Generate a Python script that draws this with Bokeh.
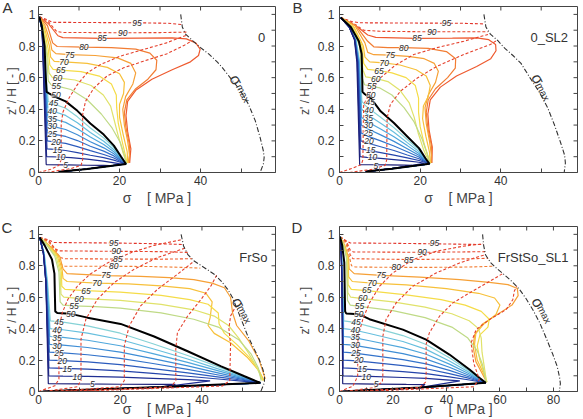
from bokeh.plotting import figure
from bokeh.layouts import gridplot
from bokeh.models import (ColumnDataSource, LabelSet, FixedTicker,
                          CustomJSTickFormatter, Range1d)
from bokeh.embed import file_html
from bokeh.resources import INLINE
from bokeh.core.properties import value

FONT = "Liberation Sans"

# fill levels [%] of the stress profiles
levels = [5, 10, 15, 20, 25, 30, 35, 40, 45, 50, 55, 60, 65, 70, 75, 80, 85, 90, 95]
level_colors = ["#1c1f78", "#1f2e93", "#2443aa", "#2b5bbd", "#3373cb", "#3e8dd5",
                "#4fa7dc", "#66bfde", "#86d2d6", "#000000", "#bfda86", "#e0e26a",
                "#f5dc48", "#f7c03a", "#f6a036", "#f27d33", "#ee5a2f", "#e8442c", "#e2342a"]
sweep_color = "#e5412d"

# ---------------- case 0 ----------------
A_curves = [
    [(0.2, 0.985), (0.9, 0.9), (1.9, 0.05), (7, 0.048), (12, 0.046), (16, 0.045), (17.5, 0.043)],
    [(0.2, 0.985), (0.9, 0.9), (2.0, 0.1), (5, 0.098), (8, 0.094), (12, 0.084), (16, 0.072), (19.5, 0.058), (20.5, 0.052)],
    [(0.2, 0.985), (0.9, 0.9), (2.1, 0.15), (4, 0.146), (6.7, 0.139), (9.6, 0.126), (12.8, 0.109), (16.1, 0.094), (18.6, 0.078), (20.4, 0.063), (21.4, 0.054)],
    [(0.2, 0.985), (0.9, 0.9), (2.15, 0.2), (4, 0.193), (6.7, 0.184), (9.6, 0.164), (12.8, 0.138), (16.1, 0.114), (18.6, 0.092), (20.4, 0.068), (21.5, 0.054)],
    [(0.2, 0.985), (0.9, 0.9), (2.2, 0.25), (4, 0.241), (6.7, 0.228), (9.6, 0.202), (12.8, 0.166), (16.1, 0.135), (18.6, 0.105), (20.4, 0.074), (21.5, 0.054)],
    [(0.2, 0.985), (0.9, 0.9), (2.25, 0.3), (4, 0.289), (6.7, 0.272), (9.6, 0.239), (12.8, 0.195), (16.1, 0.156), (18.6, 0.118), (20.4, 0.079), (21.6, 0.054)],
    [(0.2, 0.985), (0.9, 0.9), (2.3, 0.35), (4, 0.337), (6.7, 0.317), (9.6, 0.277), (12.8, 0.224), (16.1, 0.177), (18.6, 0.131), (20.4, 0.084), (21.6, 0.054)],
    [(0.2, 0.985), (0.9, 0.9), (2.35, 0.4), (4, 0.384), (6.7, 0.361), (9.6, 0.315), (12.8, 0.253), (16.1, 0.198), (18.6, 0.144), (20.4, 0.089), (21.6, 0.054)],
    [(0.2, 0.985), (0.9, 0.9), (2.4, 0.45), (4, 0.432), (6.7, 0.406), (9.6, 0.352), (12.8, 0.281), (16.1, 0.219), (18.6, 0.157), (20.4, 0.095), (21.6, 0.054)],
    [(0.2, 0.985), (0.8, 0.93), (1.5, 0.8), (1.8, 0.6), (2.0, 0.51), (2.6, 0.5), (4, 0.48), (6.7, 0.45), (9.6, 0.39), (12.8, 0.31), (16.1, 0.24), (18.6, 0.17), (20.4, 0.10), (21.6, 0.054)],
    [(0.2, 0.985), (1.0, 0.92), (2.0, 0.75), (2.4, 0.58), (3.2, 0.552), (4.4, 0.548), (8, 0.525), (12, 0.46), (15.5, 0.37), (18.2, 0.28), (20.2, 0.19), (21.2, 0.11), (21.7, 0.055)],
    [(0.2, 0.985), (1.1, 0.92), (2.2, 0.75), (2.6, 0.63), (3.4, 0.602), (4.7, 0.598), (9, 0.585), (13, 0.55), (16, 0.49), (17.8, 0.42), (18.6, 0.34), (19.6, 0.24), (20.8, 0.13), (21.8, 0.055)],
    [(0.2, 0.985), (1.2, 0.92), (2.4, 0.78), (2.8, 0.68), (3.6, 0.652), (5.5, 0.648), (10.5, 0.638), (15, 0.61), (18, 0.56), (19.2, 0.49), (19.3, 0.41), (19.7, 0.31), (20.7, 0.19), (21.9, 0.06)],
    [(0.2, 0.985), (1.4, 0.92), (2.7, 0.8), (3.0, 0.73), (3.9, 0.703), (6.3, 0.70), (12, 0.69), (17, 0.665), (20, 0.625), (21.2, 0.57), (21, 0.5), (20, 0.43), (20, 0.35), (20.9, 0.24), (21.9, 0.13), (22, 0.06)],
    [(0.2, 0.985), (1.6, 0.93), (3.0, 0.82), (3.3, 0.775), (4.3, 0.752), (7.7, 0.745), (14, 0.74), (19.5, 0.725), (22.8, 0.69), (24, 0.63), (23.3, 0.56), (21.5, 0.48), (20.8, 0.4), (21.2, 0.3), (22, 0.2), (22.5, 0.11), (22.1, 0.06)],
    [(0.2, 0.985), (2.2, 0.93), (3.5, 0.82), (4.6, 0.797), (11.2, 0.793), (18, 0.79), (24, 0.78), (27.5, 0.755), (29.2, 0.71), (29, 0.65), (27, 0.59), (24, 0.53), (21.8, 0.46), (21.2, 0.38), (21.6, 0.28), (22.5, 0.17), (22.4, 0.06)],
    [(0.2, 0.985), (2.5, 0.94), (4.8, 0.865), (6, 0.853), (15.7, 0.848), (25, 0.85), (33, 0.852), (36.5, 0.845), (38.8, 0.82), (39.9, 0.78), (39.5, 0.74), (37.5, 0.7), (33, 0.65), (28, 0.59), (24, 0.52), (22, 0.45), (21.6, 0.36), (22, 0.26), (22.8, 0.15), (22.5, 0.06)],
    [(0.2, 0.985), (2.4, 0.955), (4.5, 0.892), (6, 0.886), (20.8, 0.884), (30, 0.885), (36.5, 0.888)],
    [(0.2, 0.985), (2, 0.968), (3.5, 0.95), (24.3, 0.947), (32, 0.944), (35.6, 0.935)],
]
A_return = [(12, 0.022), (5, 0.004)]
A_sweeps = [
    [(0, 0), (3, 0.02), (5, 0.045), (5.6, 0.08), (5.6, 0.3), (6.0, 0.38), (7.5, 0.47), (9.6, 0.556), (12, 0.63), (15.3, 0.683), (20.2, 0.736), (25.9, 0.778), (31.6, 0.82), (36.5, 0.868)],
    [(2, 0), (8, 0.025), (10.5, 0.045), (10.9, 0.08), (10.9, 0.366), (11.6, 0.45), (13.7, 0.535), (16.9, 0.61), (21, 0.662), (25.9, 0.704), (31.6, 0.75), (36, 0.805), (38, 0.835)],
]
A_smax = [(35.1, 1.0), (35.5, 0.92), (36.3, 0.875), (38, 0.835), (40, 0.79), (42, 0.75), (44.1, 0.70), (45.3, 0.666), (47.3, 0.60), (49.8, 0.52), (51.8, 0.433), (53.5, 0.328), (54.7, 0.222), (55.5, 0.137), (55.7, 0.095), (55.5, 0.053), (54.7, 0.0)]
A_labels = [(6.7, 0.045), (5.5, 0.095), (4.7, 0.144), (4.3, 0.192), (3.4, 0.243), (3.4, 0.292), (3.4, 0.34), (3.4, 0.39), (3.7, 0.44), (4.3, 0.493), (4.4, 0.545), (4.7, 0.598), (5.5, 0.649), (6.3, 0.70), (7.7, 0.744), (11.2, 0.793), (15.7, 0.848), (20.8, 0.884), (24.3, 0.947)]

# ---------------- case 0_SL2 ----------------
B_curves = [
    [(0.3, 0.98), (2.4, 0.92), (3.7, 0.84), (4.3, 0.7), (5.0, 0.05), (8, 0.049), (12, 0.048), (16, 0.047), (18, 0.046)],
    [(0.3, 0.98), (2.4, 0.92), (3.75, 0.84), (4.4, 0.7), (5.1, 0.1), (6.8, 0.096), (10.2, 0.089), (13.5, 0.081), (16.8, 0.073), (19.7, 0.065), (21, 0.058)],
    [(0.3, 0.98), (2.4, 0.92), (3.8, 0.84), (4.5, 0.7), (5.2, 0.15), (6.8, 0.141), (10.2, 0.126), (13.5, 0.110), (16.8, 0.092), (19.7, 0.076), (21.3, 0.063), (22.3, 0.055)],
    [(0.3, 0.98), (2.4, 0.92), (3.8, 0.84), (4.55, 0.7), (5.3, 0.2), (6.8, 0.187), (10.2, 0.163), (13.5, 0.139), (16.8, 0.111), (19.7, 0.087), (21.3, 0.066), (22.3, 0.055)],
    [(0.3, 0.98), (2.4, 0.92), (3.85, 0.84), (4.6, 0.7), (5.35, 0.25), (6.8, 0.232), (10.2, 0.2), (13.5, 0.168), (16.8, 0.131), (19.7, 0.098), (21.3, 0.07), (22.3, 0.055)],
    [(0.3, 0.98), (2.45, 0.92), (3.9, 0.84), (4.7, 0.7), (5.4, 0.3), (6.8, 0.278), (10.2, 0.238), (13.5, 0.197), (16.8, 0.15), (19.7, 0.109), (21.3, 0.074), (22.3, 0.055)],
    [(0.3, 0.98), (2.5, 0.92), (3.95, 0.84), (4.8, 0.7), (5.45, 0.35), (6.8, 0.323), (10.2, 0.275), (13.5, 0.226), (16.8, 0.17), (19.7, 0.12), (21.3, 0.078), (22.3, 0.055)],
    [(0.3, 0.98), (2.55, 0.92), (4.0, 0.84), (4.9, 0.7), (5.5, 0.4), (6.8, 0.369), (10.2, 0.312), (13.5, 0.255), (16.8, 0.189), (19.7, 0.132), (21.3, 0.082), (22.3, 0.055)],
    [(0.3, 0.98), (2.6, 0.92), (4.1, 0.84), (5.0, 0.7), (5.55, 0.45), (6.8, 0.414), (10.2, 0.35), (13.5, 0.284), (16.8, 0.209), (19.7, 0.143), (21.3, 0.086), (22.3, 0.055)],
    [(0.3, 0.98), (2.8, 0.92), (4.8, 0.83), (5.5, 0.75), (5.7, 0.51), (6.3, 0.495), (7.75, 0.47), (10.2, 0.387), (13.5, 0.313), (16.8, 0.228), (19.7, 0.154), (21.3, 0.09), (22.3, 0.055)],
    [(0.3, 0.98), (3.0, 0.92), (5.0, 0.8), (5.6, 0.6), (6.2, 0.555), (8, 0.545), (10, 0.535), (13, 0.49), (16, 0.41), (18.5, 0.32), (20.5, 0.21), (21.7, 0.12), (22.4, 0.056)],
    [(0.3, 0.98), (3.2, 0.92), (5.3, 0.8), (5.8, 0.65), (6.5, 0.605), (9, 0.595), (12, 0.575), (15, 0.52), (17.3, 0.44), (18.5, 0.35), (19.5, 0.25), (20.9, 0.14), (22.4, 0.056)],
    [(0.3, 0.98), (3.4, 0.92), (5.6, 0.8), (6.0, 0.69), (7.0, 0.652), (9.8, 0.645), (13, 0.63), (16.5, 0.6), (18.8, 0.55), (19.6, 0.47), (19.6, 0.38), (20, 0.29), (21, 0.18), (22.5, 0.058)],
    [(0.3, 0.98), (3.6, 0.92), (5.9, 0.8), (6.3, 0.73), (7.5, 0.7), (11, 0.693), (15, 0.68), (19, 0.65), (21.5, 0.61), (22.5, 0.55), (22, 0.48), (20.8, 0.42), (20.6, 0.34), (21.4, 0.23), (22.3, 0.13), (22.5, 0.06)],
    [(0.3, 0.98), (3.8, 0.93), (6.3, 0.82), (7.0, 0.76), (8.5, 0.745), (12.6, 0.742), (17, 0.735), (21, 0.72), (23.5, 0.69), (24.5, 0.64), (23.8, 0.57), (22, 0.49), (21.2, 0.41), (21.5, 0.31), (22.3, 0.2), (22.8, 0.11), (22.6, 0.06)],
    [(0.3, 0.98), (4.0, 0.93), (7.0, 0.83), (8.5, 0.795), (12, 0.79), (16, 0.79), (22, 0.785), (26.5, 0.765), (28.8, 0.72), (28.7, 0.66), (26.8, 0.6), (23.8, 0.53), (22, 0.46), (21.5, 0.38), (21.9, 0.28), (22.8, 0.17), (22.8, 0.06)],
    [(0.3, 0.98), (4.5, 0.92), (7.0, 0.87), (9.0, 0.855), (19, 0.848), (28, 0.85), (34, 0.852), (37, 0.84), (38.7, 0.81), (38.8, 0.77), (37.5, 0.72), (34, 0.67), (29, 0.61), (25, 0.54), (22.5, 0.46), (21.9, 0.37), (22.2, 0.27), (23, 0.16), (22.9, 0.06)],
    [(0.3, 0.98), (4.0, 0.935), (6.0, 0.9), (10, 0.893), (22, 0.89), (32, 0.89), (36.8, 0.89)],
    [(0.3, 0.98), (3.0, 0.955), (5.0, 0.947), (20, 0.945), (30, 0.944), (35.9, 0.94)],
]
B_return = [(13, 0.024), (6.5, 0.006)]
B_sweeps = [
    [(0, 0), (3, 0.025), (5.4, 0.05), (5.8, 0.08), (5.9, 0.3), (6.0, 0.43), (7.7, 0.51), (10.2, 0.6), (13.9, 0.68), (18.4, 0.746), (24.2, 0.79), (30.8, 0.83), (36.8, 0.873)],
    [(2.5, 0), (8, 0.02), (11.3, 0.045), (11.7, 0.08), (11.8, 0.345), (12.6, 0.43), (15.1, 0.514), (19.3, 0.598), (24.2, 0.672), (30.8, 0.746), (37.4, 0.81), (39.0, 0.835)],
]
B_smax = [(35.8, 1.0), (36.3, 0.92), (37.4, 0.875), (39.2, 0.835), (41, 0.785), (43, 0.74), (45, 0.69), (47.2, 0.6), (49.5, 0.51), (51.6, 0.41), (53.3, 0.3), (54.8, 0.19), (55.8, 0.11), (56, 0.06), (55.7, 0.0)]
B_labels = [(9, 0.044), (8.2, 0.095), (7.75, 0.144), (7.3, 0.197), (7.1, 0.25), (7.1, 0.298), (7.1, 0.345), (7.3, 0.395), (7.6, 0.444), (7.75, 0.493), (8, 0.545), (9, 0.594), (9.8, 0.645), (11.1, 0.693), (12.6, 0.742), (15.9, 0.79), (19.2, 0.85), (22.9, 0.89), (26.5, 0.945)]

# ---------------- case FrSo ----------------
C_curves = [
    [(0.3, 0.98), (1.2, 0.88), (1.8, 0.7), (2.4, 0.05), (10, 0.048), (20, 0.046), (30, 0.045), (33.5, 0.045)],
    [(0.3, 0.98), (1.2, 0.88), (1.8, 0.7), (2.5, 0.1), (6, 0.098), (12, 0.096), (20, 0.091), (28, 0.083), (36.5, 0.075), (42, 0.068)],
    [(0.3, 0.98), (1.2, 0.88), (1.8, 0.7), (2.55, 0.15), (6, 0.147), (12, 0.142), (20, 0.131), (28, 0.115), (36.5, 0.097), (44.7, 0.078), (50.4, 0.065), (54.3, 0.055)],
    [(0.3, 0.98), (1.2, 0.88), (1.85, 0.7), (2.6, 0.2), (6, 0.196), (12, 0.188), (20, 0.171), (28, 0.146), (36.5, 0.119), (44.7, 0.09), (50.4, 0.07), (54.3, 0.055)],
    [(0.3, 0.98), (1.2, 0.88), (1.9, 0.7), (2.65, 0.25), (6, 0.246), (12, 0.234), (20, 0.211), (28, 0.178), (36.5, 0.141), (44.7, 0.102), (50.4, 0.075), (54.3, 0.055)],
    [(0.3, 0.98), (1.25, 0.88), (1.95, 0.7), (2.7, 0.3), (6, 0.295), (12, 0.28), (20, 0.251), (28, 0.209), (36.5, 0.163), (44.7, 0.114), (50.4, 0.08), (54.3, 0.055)],
    [(0.3, 0.98), (1.3, 0.88), (2.0, 0.7), (2.75, 0.35), (6, 0.344), (12, 0.326), (20, 0.291), (28, 0.241), (36.5, 0.185), (44.7, 0.126), (50.4, 0.085), (54.3, 0.055)],
    [(0.3, 0.98), (1.35, 0.88), (2.1, 0.7), (2.8, 0.4), (6, 0.393), (12, 0.372), (20, 0.331), (28, 0.272), (36.5, 0.207), (44.7, 0.138), (50.4, 0.09), (54.3, 0.055)],
    [(0.3, 0.98), (1.4, 0.88), (2.2, 0.7), (2.9, 0.45), (6, 0.442), (12, 0.418), (20, 0.371), (28, 0.304), (36.5, 0.229), (44.7, 0.15), (50.4, 0.095), (54.3, 0.055)],
    [(0.3, 0.98), (1.5, 0.93), (3.3, 0.84), (3.9, 0.75), (4.1, 0.51), (4.6, 0.5), (7.9, 0.494), (12, 0.47), (20.1, 0.43), (28.3, 0.35), (36.5, 0.256), (44.7, 0.16), (50.4, 0.097), (54.3, 0.055)],
    [(0.3, 0.98), (1.8, 0.94), (4.0, 0.86), (5.0, 0.76), (5.3, 0.57), (6, 0.55), (8.7, 0.545), (14, 0.54), (20, 0.53), (30, 0.5), (38, 0.46), (44, 0.41), (49, 0.33), (52, 0.24), (53.8, 0.15), (54.5, 0.07)],
    [(0.3, 0.98), (1.9, 0.94), (4.3, 0.86), (5.3, 0.76), (5.5, 0.62), (6.2, 0.6), (9.9, 0.592), (20, 0.58), (30, 0.555), (38, 0.52), (43, 0.48), (46.5, 0.42), (49, 0.34), (51.5, 0.24), (53.5, 0.15), (54.8, 0.07)],
    [(0.3, 0.98), (2.0, 0.94), (4.6, 0.86), (5.6, 0.76), (5.7, 0.67), (6.5, 0.65), (11.6, 0.642), (20, 0.632), (30, 0.612), (37, 0.585), (41.5, 0.555), (44, 0.5), (44.2, 0.43), (45.5, 0.37), (48.5, 0.3), (51.5, 0.22), (53.8, 0.14), (55, 0.07)],
    [(0.3, 0.98), (2.1, 0.94), (4.9, 0.86), (5.8, 0.77), (6.0, 0.72), (7.0, 0.70), (14.3, 0.69), (22, 0.685), (30, 0.672), (37, 0.655), (41, 0.625), (42.5, 0.57), (42, 0.47), (41.5, 0.42), (43, 0.37), (47, 0.31), (51, 0.22), (54, 0.13), (55.2, 0.07)],
    [(0.3, 0.98), (2.2, 0.94), (5.2, 0.86), (6.0, 0.78), (7.0, 0.75), (16.5, 0.737), (25, 0.733), (32, 0.725), (38, 0.712), (42.5, 0.69), (45.5, 0.66), (47, 0.6), (47.5, 0.5), (48.5, 0.42), (51.5, 0.32), (54, 0.2), (55.5, 0.08)],
    [(0.3, 0.98), (2.5, 0.95), (4.5, 0.88), (5.3, 0.81), (6.5, 0.797), (18.4, 0.797), (28, 0.795), (35, 0.79), (39.6, 0.785)],
    [(0.3, 0.98), (2.5, 0.955), (4.3, 0.9), (5.0, 0.855), (6.5, 0.845), (19.4, 0.843), (30, 0.842), (37.6, 0.845)],
    [(0.3, 0.98), (2.5, 0.96), (4.0, 0.91), (5.0, 0.895), (19, 0.892), (30, 0.89), (36.6, 0.885)],
    [(0.3, 0.98), (2.5, 0.965), (3.8, 0.948), (18.4, 0.945), (30, 0.94), (35.6, 0.935)],
]
C_return = [(30, 0.028), (8, 0.008), (1, 0.0)]
C_sweeps = [
    [(0, 0), (4, 0.036), (5.0, 0.078), (5.0, 0.4), (5.8, 0.5), (7.2, 0.587), (9.5, 0.67), (12.6, 0.746), (17, 0.82), (22.6, 0.883), (28.3, 0.93), (34.8, 0.965)],
    [(1.5, 0), (9.5, 0.03), (10.4, 0.07), (10.4, 0.333), (11.6, 0.46), (14.4, 0.587), (18.5, 0.693), (23.4, 0.778), (29.1, 0.852), (35.8, 0.912)],
    [(3, 0), (20, 0.03), (21, 0.07), (21, 0.29), (22.2, 0.417), (25, 0.545), (29.1, 0.65), (34, 0.746), (38.1, 0.83)],
    [(5, 0), (32.5, 0.03), (33.6, 0.07), (33.6, 0.27), (34, 0.375), (36.5, 0.48), (39.8, 0.587), (42.2, 0.672), (43.6, 0.74)],
    [(8, 0), (45, 0.035), (46.8, 0.07), (47, 0.3), (46.6, 0.4), (47, 0.48), (48.3, 0.544)],
]
C_smax = [(34.9, 1.0), (35.5, 0.926), (36.5, 0.873), (38.1, 0.83), (40.6, 0.788), (43, 0.746), (44.7, 0.703), (46.3, 0.65), (47.5, 0.597), (48.3, 0.544), (49.6, 0.46), (51.2, 0.354), (52.8, 0.269), (54, 0.205), (54.9, 0.142), (55.3, 0.1), (55.3, 0.057), (54.4, 0.0)]
C_labels = [(13.2, 0.046), (9.5, 0.095), (7, 0.144), (5.8, 0.195), (5, 0.246), (4.5, 0.292), (4.5, 0.341), (4.5, 0.39), (5, 0.44), (7.9, 0.496), (8.7, 0.543), (9.9, 0.591), (11.6, 0.642), (14.3, 0.69), (16.5, 0.739), (18.4, 0.797), (19.4, 0.843), (19, 0.892), (18.4, 0.945)]

# ---------------- case FrStSo_SL1 ----------------
D_curves = [
    [(0.2, 0.985), (0.6, 0.9), (0.9, 0.7), (1.2, 0.05), (13.7, 0.047), (25, 0.045), (32, 0.044)],
    [(0.2, 0.985), (0.6, 0.9), (0.9, 0.7), (1.25, 0.1), (5, 0.098), (11.2, 0.096), (23.7, 0.089), (32.4, 0.083), (41.1, 0.073), (45, 0.068)],
    [(0.2, 0.985), (0.6, 0.9), (0.92, 0.7), (1.3, 0.15), (5, 0.147), (11.2, 0.141), (23.7, 0.127), (32.4, 0.114), (41.1, 0.093), (48.6, 0.073), (52.3, 0.062), (54.7, 0.055)],
    [(0.2, 0.985), (0.62, 0.9), (0.95, 0.7), (1.35, 0.2), (5, 0.196), (11.2, 0.187), (23.7, 0.165), (32.4, 0.145), (41.1, 0.114), (48.6, 0.083), (52.3, 0.065), (54.7, 0.055)],
    [(0.2, 0.985), (0.64, 0.9), (0.98, 0.7), (1.4, 0.25), (5, 0.246), (11.2, 0.232), (23.7, 0.203), (32.4, 0.176), (41.1, 0.134), (48.6, 0.092), (52.3, 0.069), (54.7, 0.055)],
    [(0.2, 0.985), (0.66, 0.9), (1.0, 0.7), (1.45, 0.3), (5, 0.295), (11.2, 0.278), (23.7, 0.241), (32.4, 0.206), (41.1, 0.154), (48.6, 0.102), (52.3, 0.073), (54.7, 0.055)],
    [(0.2, 0.985), (0.68, 0.9), (1.05, 0.7), (1.5, 0.35), (5, 0.344), (11.2, 0.323), (23.7, 0.279), (32.4, 0.237), (41.1, 0.174), (48.6, 0.111), (52.3, 0.076), (54.7, 0.055)],
    [(0.2, 0.985), (0.7, 0.9), (1.1, 0.7), (1.55, 0.4), (5, 0.393), (11.2, 0.369), (23.7, 0.318), (32.4, 0.268), (41.1, 0.194), (48.6, 0.121), (52.3, 0.08), (54.7, 0.055)],
    [(0.2, 0.985), (0.72, 0.9), (1.15, 0.7), (1.6, 0.45), (5, 0.442), (11.2, 0.414), (23.7, 0.356), (32.4, 0.299), (41.1, 0.215), (48.6, 0.13), (52.3, 0.083), (54.7, 0.055)],
    [(0.2, 0.985), (1.0, 0.93), (1.8, 0.82), (2.0, 0.6), (2.1, 0.51), (2.5, 0.497), (7.2, 0.492), (11.2, 0.46), (23.7, 0.394), (32.4, 0.33), (41.1, 0.235), (48.6, 0.14), (52.3, 0.087), (54.7, 0.055)],
    [(0.2, 0.985), (1.5, 0.93), (2.6, 0.85), (3.0, 0.58), (4, 0.55), (7.5, 0.542), (20, 0.515), (32, 0.47), (42, 0.41), (48, 0.34), (51.5, 0.26), (53.5, 0.17), (54.8, 0.06)],
    [(0.2, 0.985), (1.6, 0.93), (2.8, 0.85), (3.1, 0.63), (4.2, 0.6), (8.7, 0.591), (20, 0.57), (32, 0.537), (42, 0.495), (48.5, 0.45), (52, 0.4), (53, 0.34), (53.3, 0.25), (54.2, 0.15), (55, 0.06)],
    [(0.2, 0.985), (1.7, 0.93), (3.0, 0.85), (3.2, 0.68), (4.4, 0.65), (10.2, 0.642), (25, 0.615), (38, 0.585), (47, 0.55), (53, 0.51), (56, 0.46), (55.5, 0.41), (52.5, 0.36), (51.5, 0.29), (52.5, 0.2), (54.2, 0.11), (55.2, 0.06)],
    [(0.2, 0.985), (1.8, 0.93), (3.2, 0.85), (3.4, 0.73), (4.8, 0.70), (12.2, 0.69), (25, 0.678), (40, 0.655), (52, 0.625), (58, 0.595), (60, 0.55), (58.5, 0.49), (54, 0.43), (51, 0.37), (50.5, 0.3), (51.5, 0.2), (54, 0.11), (55, 0.06)],
    [(0.2, 0.985), (2.0, 0.93), (3.4, 0.85), (3.6, 0.78), (5.5, 0.75), (15.6, 0.739), (30, 0.728), (45, 0.712), (56, 0.695), (63, 0.68), (66.5, 0.655), (66.8, 0.61), (64.5, 0.55), (59, 0.49), (53.5, 0.43), (50.5, 0.36), (50, 0.28), (51, 0.19), (53.5, 0.11), (55, 0.06)],
    [(0.2, 0.985), (2.5, 0.94), (3.8, 0.85), (4.5, 0.8), (6, 0.792), (21.2, 0.79), (35, 0.79), (48, 0.792), (57.3, 0.797)],
    [(0.2, 0.985), (2.6, 0.95), (4.0, 0.87), (5.0, 0.845), (25.9, 0.84), (40, 0.842), (50, 0.845), (55.6, 0.848)],
    [(0.2, 0.985), (2.6, 0.955), (4.0, 0.9), (5.2, 0.888), (30.9, 0.886), (45, 0.888), (54.4, 0.89)],
    [(0.2, 0.985), (2.4, 0.96), (4.0, 0.945), (20, 0.943), (35.5, 0.94), (53.8, 0.935)],
]
D_return = [(30, 0.025), (8, 0.006), (1, 0.0)]
D_sweeps = [
    [(0, 0), (5, 0.034), (6.2, 0.076), (6.8, 0.1), (6.9, 0.35), (8.7, 0.458), (11.2, 0.564), (15, 0.67), (19.9, 0.754), (27.4, 0.839), (36.1, 0.892), (46, 0.924), (53.7, 0.94)],
    [(2, 0), (13, 0.025), (16, 0.06), (16.2, 0.1), (16.2, 0.35), (17.4, 0.458), (21.2, 0.564), (27.4, 0.67), (36.1, 0.754), (44.9, 0.818), (52.3, 0.86), (54.5, 0.87)],
    [(4, 0), (30, 0.025), (32.2, 0.06), (32.4, 0.1), (32.4, 0.3), (33.6, 0.373), (37.4, 0.479), (42.4, 0.564), (48.6, 0.627), (55, 0.69), (61, 0.75)],
    [(8, 0), (50, 0.03), (52.3, 0.076), (50.2, 0.18), (49.2, 0.309), (51.1, 0.394), (56.1, 0.458), (62.3, 0.521), (64.8, 0.584), (65.4, 0.64), (66.3, 0.67)],
]
D_smax = [(53.5, 1.0), (53.9, 0.93), (54.6, 0.87), (56.5, 0.82), (59, 0.78), (61.5, 0.745), (64.5, 0.7), (67.3, 0.65), (69.8, 0.59), (72.3, 0.52), (74.8, 0.44), (77.3, 0.34), (79.8, 0.235), (81.4, 0.16), (82.3, 0.09), (82.6, 0.05), (82.2, 0.0)]
D_labels = [(13.7, 0.046), (10, 0.095), (8.5, 0.146), (7.2, 0.198), (6.2, 0.247), (5.9, 0.296), (5.9, 0.345), (5.9, 0.394), (6.2, 0.443), (7.2, 0.495), (7.5, 0.543), (8.7, 0.592), (10.2, 0.643), (12.2, 0.691), (15.6, 0.74), (21.2, 0.79), (25.9, 0.84), (30.9, 0.887), (35.5, 0.942)]

y_ticks = [0, 0.2, 0.4, 0.6, 0.8, 1.0]
y_minor = [0.1, 0.3, 0.5, 0.7, 0.9]
Y_MAX = 1.05
TICK_PX = 4
NBSP = "\u00a0"


def build(curves, ret, sweeps, smax, labels, dashed_levels, case_name, case_xy,
          smax_xy, xmax, xticks, xminor, letter, w, h, bl, br, bt, bb,
          tick_std, lab_std, xlab_std, letter_std):
    p = figure(width=w, height=h, x_range=Range1d(0, xmax), y_range=Range1d(0, Y_MAX),
               output_backend="svg", toolbar_location=None, title=letter,
               min_border_left=bl, min_border_right=br, min_border_top=bt, min_border_bottom=bb,
               x_axis_label="σ" + NBSP * 4 + "[ MPa ]", y_axis_label="z' / H  [ - ]")
    p.grid.visible = False
    p.outline_line_color = "#444444"
    p.background_fill_color = "white"
    p.border_fill_color = "white"

    # panel letter, pulled down beside the top of the box
    p.title.align = "left"
    p.title.offset = -bl + 1
    p.title.standoff = letter_std
    p.title.text_font = FONT
    p.title.text_font_size = "15px"
    p.title.text_font_style = "normal"
    p.title.text_color = "#333333"

    xt = FixedTicker(ticks=xticks, minor_ticks=xminor)
    yt = FixedTicker(ticks=y_ticks, minor_ticks=y_minor)
    fmt = CustomJSTickFormatter(code="return Number(tick.toFixed(2)).toString();")

    for ax, tk in ((p.xaxis[0], xt), (p.yaxis[0], yt)):
        ax.ticker = tk
        ax.formatter = fmt
        ax.major_label_text_font = FONT
        ax.major_label_text_font_size = "12px"
        ax.major_label_text_color = "#333333"
        ax.axis_label_text_font = FONT
        ax.axis_label_text_font_style = "normal"
        ax.axis_label_text_color = "#444444"
        ax.axis_line_color = "#444444"
        ax.major_tick_in = TICK_PX
        ax.major_tick_out = 0
        ax.minor_tick_in = TICK_PX
        ax.minor_tick_out = 0
        ax.major_tick_line_color = "#444444"
        ax.minor_tick_line_color = "#444444"
    p.xaxis[0].major_label_standoff = 3
    p.xaxis[0].axis_label_standoff = xlab_std
    p.xaxis[0].axis_label_text_font_size = "14px"
    p.yaxis[0].major_label_standoff = tick_std
    p.yaxis[0].axis_label_standoff = lab_std
    p.yaxis[0].axis_label_text_font_size = "12px"

    # inward ticks on the top and right edges of the box
    fw = w - bl - br
    fh = h - bt - bb
    dx = TICK_PX * xmax / fw
    dy = TICK_PX * Y_MAX / fh
    tx = list(xticks) + list(xminor)
    p.segment(x0=tx, y0=[Y_MAX] * len(tx), x1=tx, y1=[Y_MAX - dy] * len(tx),
              line_color="#444444", line_width=1)
    ty = list(y_ticks) + list(y_minor)
    p.segment(x0=[xmax] * len(ty), y0=ty, x1=[xmax - dx] * len(ty), y1=ty,
              line_color="#444444", line_width=1)

    # profile curves, highest fill level first; the 50 % profile drawn last
    order = [i for i in range(len(levels) - 1, -1, -1) if levels[i] != 50] + [levels.index(50)]
    for i in order:
        pts = list(curves[i])
        if levels[i] <= 50:
            last = pts[-1][0]
            pts += [q for q in ret if q[0] < last]
        xs = [q[0] for q in pts]
        ys = [q[1] for q in pts]
        if levels[i] in dashed_levels:
            p.line(xs, ys, line_color=level_colors[i], line_width=1.1, line_dash="3 2")
        elif levels[i] == 50:
            p.line(xs, ys, line_color=level_colors[i], line_width=2.0)
        else:
            p.line(xs, ys, line_color=level_colors[i], line_width=1.2)

    for sw in sweeps:
        p.line([q[0] for q in sw], [q[1] for q in sw], line_color=sweep_color,
               line_width=1.1, line_dash="3 2")

    p.line([q[0] for q in smax], [q[1] for q in smax], line_color="#333333",
           line_width=1.1, line_dash="5 2 1 2")

    src = ColumnDataSource(dict(x=[q[0] for q in labels], y=[q[1] for q in labels],
                                t=[str(l) for l in levels]))
    p.add_layout(LabelSet(x="x", y="y", text="t", source=src, text_font=value(FONT),
                          text_font_size="8.5px", text_font_style="italic",
                          text_color="#2a2a2a", text_align="center", text_baseline="middle",
                          background_fill_color="white", background_fill_alpha=0.6))

    (sx, sy), (mx, my) = smax_xy
    p.text(x=[sx], y=[sy], text=["σ"], angle=-1.1, text_font=value(FONT),
           text_font_size="16px", text_color="#333333", text_align="center",
           text_baseline="middle")
    p.text(x=[mx], y=[my], text=["max"], angle=-1.1, text_font=value(FONT),
           text_font_size="10px", text_color="#333333", text_align="center",
           text_baseline="middle")

    p.text(x=[case_xy[0]], y=[case_xy[1]], text=[case_name], text_font=value(FONT),
           text_font_size="13px", text_color="#333333", text_align="center",
           text_baseline="middle")
    return p


pA = build(A_curves, A_return, A_sweeps, A_smax, A_labels, [90, 95], "0", (55.1, 0.854),
           ((48.8, 0.585), (50.5, 0.5)), 58.5, [0, 20, 40], [10, 30, 50], "A",
           290, 210, 37, 14, 6, 38, 3, -3, 2, -18)
pB = build(B_curves, B_return, B_sweeps, B_smax, B_labels, [90, 95], "0_SL2", (52.0, 0.853),
           ((49.2, 0.592), (50.4, 0.51)), 59.0, [0, 20, 40], [10, 30, 50], "B",
           293, 210, 48, 6, 6, 38, 5, 3, 2, -18)
pC = build(C_curves, C_return, C_sweeps, C_smax, C_labels, [80, 85, 90, 95], "FrSo", (52.6, 0.85),
           ((48.9, 0.566), (50.4, 0.49)), 58.0, [0, 20, 40], [10, 30, 50], "C",
           290, 209, 38, 15, 16, 28, 3, -3, -6, -18)
pD = build(D_curves, D_return, D_sweeps, D_smax, D_labels, [80, 85, 90, 95], "FrStSo_SL1", (72.4, 0.85),
           ((74.3, 0.566), (76.6, 0.49)), 89.0, [0, 20, 40, 60, 80], [10, 30, 50, 70], "D",
           293, 209, 49, 6, 16, 28, 5, 3, -6, -18)

grid = gridplot([[pA, pB], [pC, pD]], toolbar_location=None)

open("out.html", "w").write(file_html(grid, INLINE))
